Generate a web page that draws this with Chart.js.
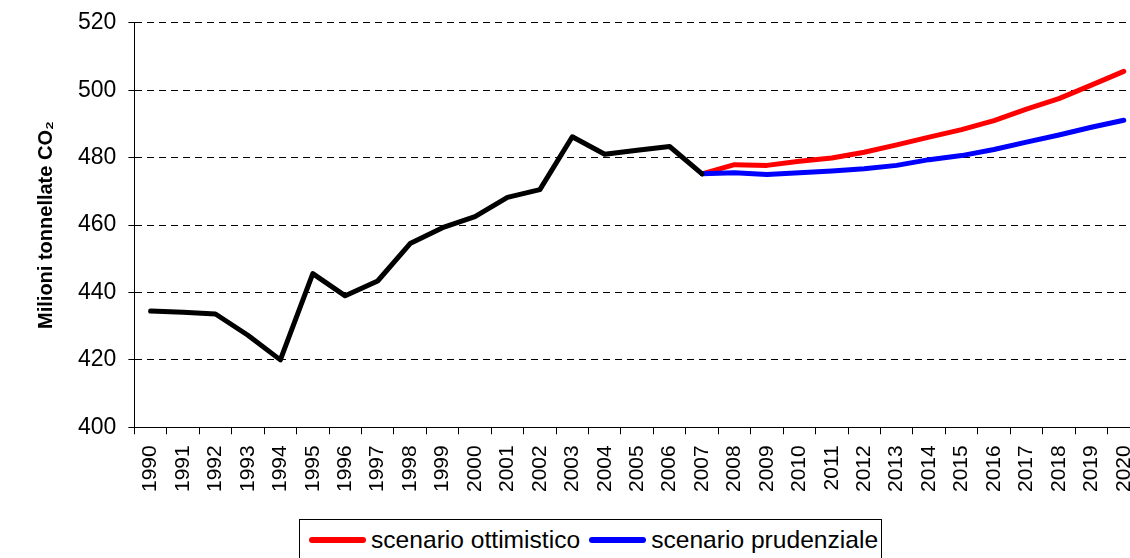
<!DOCTYPE html>
<html>
<head>
<meta charset="utf-8">
<script src="https://cdn.jsdelivr.net/npm/chart.js@4/dist/chart.umd.min.js"></script>
<style>
    body { margin: 0; overflow: hidden; background: #fff; font-family: 'Liberation Sans', Arial, sans-serif; }
    #wrap { position: relative; width: 1160px; height: 510px; margin-top: -3px; }
    #legend {
        position: absolute; left: 299px; top: 519px; width: 583px; height: 50px;
        border: 1px solid #000; box-sizing: border-box;
        display: flex; align-items: flex-start; padding: 6px 0 0 9px;
        font-size: 24.6px; color: #000; white-space: nowrap;
    }
    #legend .item { display: flex; align-items: center; margin-right: 9px; }
    #legend .swatch { width: 57px; height: 6px; border-radius: 3px; margin-right: 5px; }
</style>
</head>
<body>
<div id="wrap"><canvas id="c"></canvas></div>
<div id="legend"></div>
<script>
const YEARS = ['1990', '1991', '1992', '1993', '1994', '1995', '1996', '1997', '1998', '1999',
    '2000', '2001', '2002', '2003', '2004', '2005', '2006', '2007', '2008', '2009',
    '2010', '2011', '2012', '2013', '2014', '2015', '2016', '2017', '2018', '2019', '2020'];

// emissioni storiche 1990-2007
const storico = [434.5, 434.1, 433.6, 427.3, 420.0, 445.6, 439.0, 443.4, 454.5, 459.2,
    462.5, 468.2, 470.5, 486.2, 481.0, 482.2, 483.3, 475.2];

// proiezioni 2007-2020
const ottimistico = [475.2, 477.9, 477.7, 478.9, 479.9, 481.6, 483.8, 486.1, 488.3, 491.0,
    494.4, 497.5, 501.5, 505.6];
const prudenziale = [475.2, 475.5, 475.0, 475.5, 476.0, 476.7, 477.7, 479.4, 480.6, 482.4,
    484.6, 486.7, 489.0, 491.1];

const Y_MIN = 400, Y_MAX = 520, Y_STEP = 20;

// pad the series to the full year range
const gap = YEARS.length - storico.length;
const startProj = storico.length - 1;
const serieStorico = storico.concat(Array(gap).fill(null));
const serieOtt = Array(startProj).fill(null).concat(ottimistico);
const seriePru = Array(startProj).fill(null).concat(prudenziale);

const FONT = "'Liberation Sans', Arial, sans-serif";

function lineSet(label, data, color, order, legend){
    return {
        label: label,
        data: data,
        borderColor: color,
        backgroundColor: color,
        borderWidth: 5,
        borderCapStyle: 'round',
        borderJoinStyle: 'round',
        pointRadius: 0,
        tension: 0,
        spanGaps: false,
        order: order,
        inLegend: legend
    };
}

const chart = new Chart(document.getElementById('c'), {
    type: 'line',
    data: {
        labels: YEARS,
        datasets: [
            lineSet('storico', serieStorico, '#000000', 0, false),
            lineSet('scenario ottimistico', serieOtt, '#ff0000', 2, true),
            lineSet('scenario prudenziale', seriePru, '#0000ff', 1, true)
        ]
    },
    options: {
        responsive: true,
        maintainAspectRatio: false,
        animation: false,
        layout: { padding: { left: 30, right: 3, top: 0, bottom: 4 } },
        plugins: {
            legend: { display: false },
            tooltip: { enabled: false }
        },
        scales: {
            x: {
                offset: true,
                grid: { offset: true, drawOnChartArea: false, drawTicks: true, tickLength: 7, color: '#000' },
                border: { display: true, color: '#000', width: 1 },
                ticks: {
                    autoSkip: false, minRotation: 90, maxRotation: 90, padding: 11,
                    color: '#000', font: { family: FONT, size: 21 }
                }
            },
            y: {
                min: Y_MIN,
                max: Y_MAX,
                grid: { color: '#000', lineWidth: 1, tickLength: 6, tickColor: '#000' },
                border: { display: true, color: '#000', width: 1, dash: [7, 5] },
                ticks: {
                    stepSize: Y_STEP, padding: 12,
                    color: '#000', font: { family: FONT, size: 23 }
                },
                title: {
                    display: true,
                    text: 'Milioni tonnellate CO₂',
                    color: '#000',
                    font: { family: FONT, size: 20, weight: 'bold' },
                    padding: { top: 4, bottom: 8 }
                }
            }
        }
    }
});

// legenda in HTML, solo per gli scenari
const legendEl = document.getElementById('legend');
chart.data.datasets.forEach(ds => {
    if (!ds.inLegend) return;
    const item = document.createElement('span');
    item.className = 'item';
    const sw = document.createElement('span');
    sw.className = 'swatch';
    sw.style.background = ds.borderColor;
    const txt = document.createElement('span');
    txt.textContent = ds.label;
    item.appendChild(sw);
    item.appendChild(txt);
    legendEl.appendChild(item);
});
</script>
</body>
</html>
